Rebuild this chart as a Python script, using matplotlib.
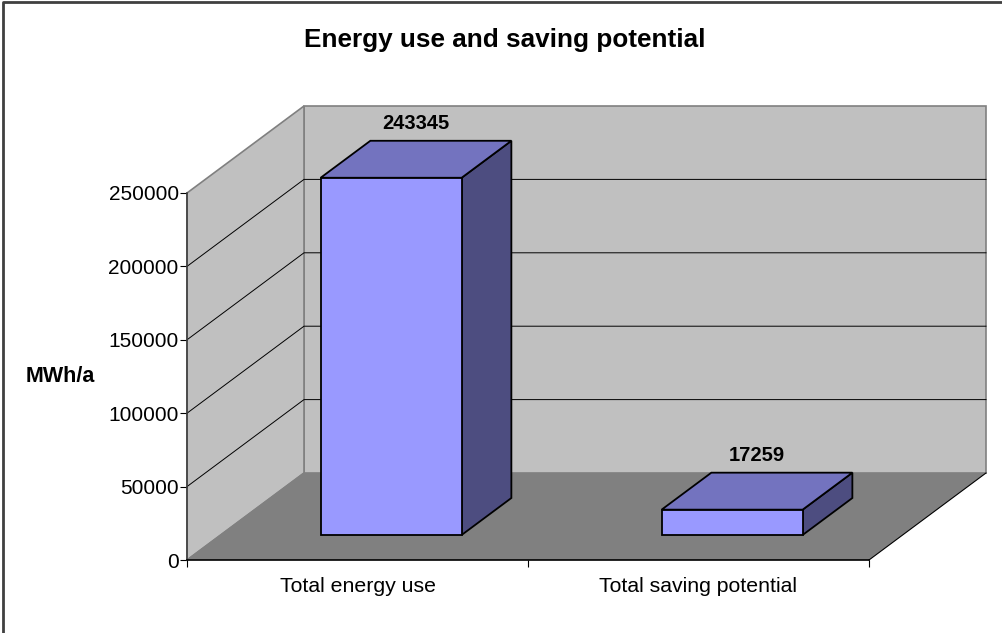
import matplotlib
matplotlib.use("Agg")
import matplotlib.pyplot as plt
from matplotlib.patches import Polygon
from matplotlib.lines import Line2D

plt.rcParams["font.family"] = ["Liberation Sans", "DejaVu Sans"]

categories = ["Total energy use", "Total saving potential"]
values = [243345, 17259]
y_ticks = [0, 50000, 100000, 150000, 200000, 250000]
y_max = 250000
title = "Energy use and saving potential"
y_label = "MWh/a"

# colours of the 3-D box and the walls
FRONT = "#9999FF"
TOP = "#7373BF"
SIDE = "#4D4D80"
WALL = "#C0C0C0"
FLOOR = "#808080"
EDGE = "#808080"

# oblique depth vector, in data units (categories along x, MWh/a along y)
DX = 117 / 341
DY = 87 * y_max / 367
BAR_W = 0.4135
D_FRONT, D_BACK = 0.2875, 0.7125


def proj(x, y, d):
    return (x + d * DX, y + d * DY)


def poly(ax, pts, fc, ec, lw, z):
    ax.add_patch(Polygon(pts, closed=True, fc=fc, ec=ec, lw=lw, zorder=z,
                         clip_on=False, joinstyle="miter"))


fig = plt.figure(figsize=(10.02, 6.33), dpi=100)
W, H = 1002, 633
ax = fig.add_axes([187 / W, (H - 560) / H, 682 / W, 367 / H])
ax.set_xlim(0, len(categories))
ax.set_ylim(0, y_max)
ax.patch.set_visible(False)

n = len(categories)
# back wall, left wall, floor
poly(ax, [proj(0, 0, 1), proj(n, 0, 1), proj(n, y_max, 1), proj(0, y_max, 1)],
     WALL, EDGE, 1.2, 1)
poly(ax, [proj(0, 0, 0), proj(0, 0, 1), proj(0, y_max, 1), proj(0, y_max, 0)],
     WALL, EDGE, 1.2, 1)
poly(ax, [proj(0, 0, 0), proj(n, 0, 0), proj(n, 0, 1), proj(0, 0, 1)],
     FLOOR, "none", 0, 1)
ax.plot(*zip(proj(n, 0, 0), proj(n, 0, 1)), color="black", lw=0.8,
        zorder=2, clip_on=False)
ax.plot(*zip(proj(0, 0, 0), proj(0, 0, 1)), color=EDGE, lw=1.0,
        zorder=2, clip_on=False)

# gridlines on both walls
for v in y_ticks[1:-1]:
    pts = [proj(0, v, 0), proj(0, v, 1), proj(n, v, 1)]
    ax.plot(*zip(*pts), color="black", lw=0.7, zorder=2, clip_on=False)

# boxes
for i, v in enumerate(values):
    x0 = i + 0.5 - BAR_W / 2
    x1 = i + 0.5 + BAR_W / 2
    front = [proj(x0, 0, D_FRONT), proj(x1, 0, D_FRONT),
             proj(x1, v, D_FRONT), proj(x0, v, D_FRONT)]
    top = [proj(x0, v, D_FRONT), proj(x1, v, D_FRONT),
           proj(x1, v, D_BACK), proj(x0, v, D_BACK)]
    side = [proj(x1, 0, D_FRONT), proj(x1, 0, D_BACK),
            proj(x1, v, D_BACK), proj(x1, v, D_FRONT)]
    poly(ax, side, SIDE, "black", 1.3, 3)
    poly(ax, top, TOP, "black", 1.3, 3)
    poly(ax, front, FRONT, "black", 1.3, 4)
    ax.annotate(f"{v}", xy=proj(i + 0.5, v, 0.5), xytext=(0, 26),
                textcoords="offset points", ha="center", va="center",
                fontsize=14.5, fontweight="bold", zorder=5,
                annotation_clip=False)

# axes
for s in ("top", "right"):
    ax.spines[s].set_visible(False)
ax.spines["left"].set_color("#404040")
ax.spines["left"].set_linewidth(1.2)
ax.spines["bottom"].set_color("black")
ax.spines["bottom"].set_linewidth(1.2)
ax.spines["left"].set_zorder(6)
ax.spines["bottom"].set_zorder(6)

ax.set_yticks(y_ticks)
ax.set_yticklabels([str(t) for t in y_ticks], fontsize=15)
ax.tick_params(axis="y", direction="out", length=5, width=0.8, pad=1)
ax.set_xticks(range(n + 1))
ax.set_xticklabels([])
ax.set_xticks([i + 0.5 for i in range(n)], minor=True)
ax.set_xticklabels(categories, minor=True, fontsize=15.3)
ax.tick_params(axis="x", which="major", direction="out", length=5, width=0.8)
ax.tick_params(axis="x", which="minor", length=0, pad=12)

fig.text(505 / W, 1 - 40 / H, title, ha="center", va="center",
         fontsize=18.8, fontweight="bold")
fig.text(60 / W, 1 - 377 / H, y_label, ha="center", va="center",
         fontsize=15.5, fontweight="bold")

# chart-area border: only the top and left edges fall inside the image
bx, by = 2.5 / W, 1 - 2.0 / H
fig.add_artist(Line2D([bx, bx, 1.0], [0.0, by, by], transform=fig.transFigure,
                      color="#404040", lw=2))

fig.savefig("out.png", dpi=100)
